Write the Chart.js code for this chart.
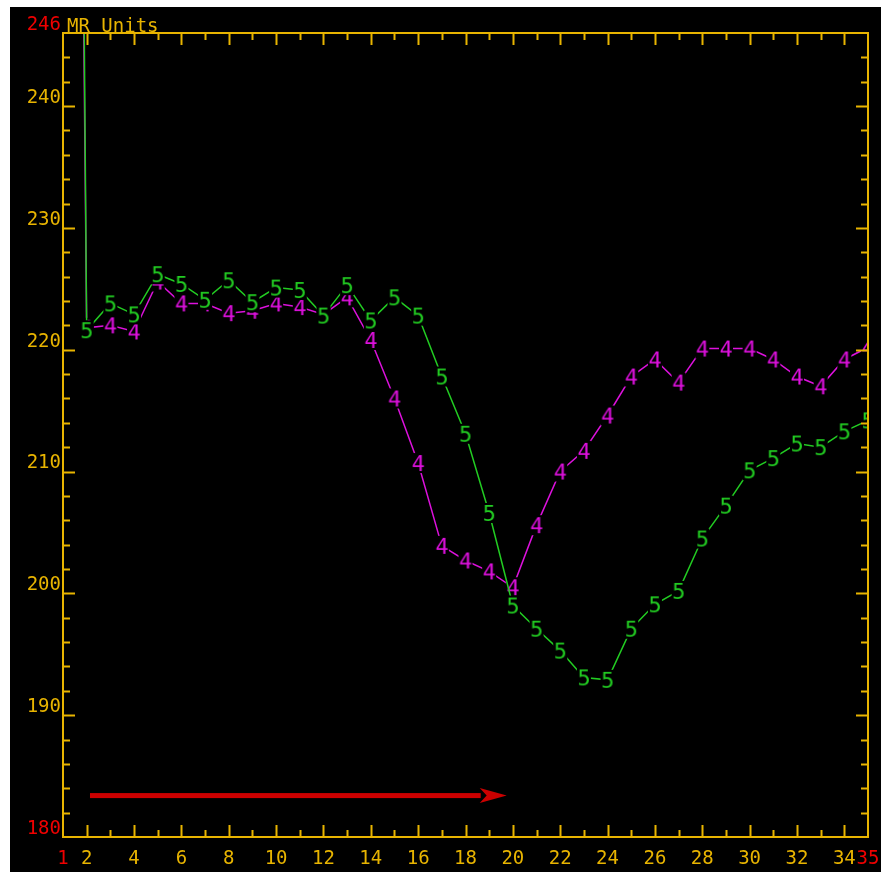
<!DOCTYPE html>
<html>
<head>
<meta charset="utf-8">
<script src="https://cdn.jsdelivr.net/npm/chart.js@4.4.0/dist/chart.umd.min.js"></script>
<style>
  html, body { margin: 0; padding: 0; background: #fff; }
  #wrap { position: absolute; left: 10px; top: 7px; width: 871px; height: 865px; background: #000; }
</style>
</head>
<body>
<div id="wrap"><canvas id="myChart" width="871" height="865"></canvas></div>
<script>
var days = [1, 2, 3, 4, 5, 6, 7, 8, 9, 10, 11, 12, 13, 14, 15, 16, 17, 18,
            19, 20, 21, 22, 23, 24, 25, 26, 27, 28, 29, 30, 31, 32, 33, 34, 35];
// trace "5" (green)
var series5 = [460, 221.6, 223.8, 222.9, 226.2, 225.4, 224.1, 225.7, 223.9, 225.1, 224.9, 222.8,
               225.3, 222.4, 224.3, 222.8, 217.8, 213.1, 206.6, 199.0, 197.1, 195.3, 193.1, 192.9,
               197.1, 199.1, 200.2, 204.5, 207.2, 210.1, 211.1, 212.3, 212.0, 213.3, 214.2];
// trace "4" (magenta)
var series4 = [420, 221.8, 222.0, 221.5, 225.6, 223.8, 223.8, 223.0, 223.2, 223.8, 223.5, 222.9,
               224.3, 220.8, 216.0, 210.7, 203.9, 202.7, 201.8, 200.5, 205.6, 210.0, 211.7, 214.6,
               217.8, 219.2, 217.3, 220.1, 220.1, 220.1, 219.2, 217.8, 217.0, 219.2, 220.2];
var xTickLabels = [1, 2, 4, 6, 8, 10, 12, 14, 16, 18, 20, 22, 24, 26, 28, 30, 32, 34, 35];
var yTickLabels = [180, 190, 200, 210, 220, 230, 240, 246];
var redLabels = [1, 35, 180, 246];
var arrowFrom = 2.14, arrowTo = 19.74, arrowAt = 183.4;

var YELLOW = '#e8b400';
var RED = '#f00000';
var FONT = '"DejaVu Sans Mono", monospace';

// digit marker with a black box behind it, like the plotter's symbols
function glyph(ch, color) {
  var c = document.createElement('canvas');
  c.width = 20; c.height = 26;
  var g = c.getContext('2d');
  g.fillStyle = '#000';
  g.fillRect(3, 3, 14, 20);
  g.font = '22px ' + FONT;
  g.textAlign = 'center';
  g.textBaseline = 'alphabetic';
  g.fillStyle = color;
  g.fillText(ch, 10, 21);
  return c;
}

function toPoints(vals) {
  return days.map(function(d, i) { return { x: d, y: vals[i] }; });
}

var frame = {
  id: 'frame',
  afterDatasetsDraw: function(chart) {
    var c = chart.ctx;
    var xs = chart.scales.x, ys = chart.scales.y;
    // arrow
    var x1 = xs.getPixelForValue(arrowFrom), x2 = xs.getPixelForValue(arrowTo);
    var yy = ys.getPixelForValue(arrowAt);
    c.save();
    c.fillStyle = '#cc0000';
    c.fillRect(x1, yy - 2.5, x2 - 26 - x1, 5);
    c.beginPath();
    c.moveTo(x2 - 27, yy - 7.5);
    c.lineTo(x2, yy);
    c.lineTo(x2 - 27, yy + 7.5);
    c.lineTo(x2 - 20, yy);
    c.closePath();
    c.fill();
    c.restore();
  },
  afterDraw: function(chart) {
    var c = chart.ctx, a = chart.chartArea;
    var xs = chart.scales.x, ys = chart.scales.y;
    c.save();
    c.strokeStyle = YELLOW;
    c.lineWidth = 2;
    c.strokeRect(a.left, a.top, a.right - a.left, a.bottom - a.top);
    c.beginPath();
    for (var d = 2; d <= 34; d++) {
      var px = Math.round(xs.getPixelForValue(d)) + 0.5;
      var len = d % 2 === 0 ? 12 : 7;
      c.moveTo(px, a.bottom); c.lineTo(px, a.bottom - len);
      c.moveTo(px, a.top); c.lineTo(px, a.top + len);
    }
    for (var v = 182; v <= 244; v += 2) {
      var py = Math.round(ys.getPixelForValue(v)) + 0.5;
      var l2 = v % 10 === 0 ? 12 : 7;
      c.moveTo(a.left, py); c.lineTo(a.left + l2, py);
      c.moveTo(a.right, py); c.lineTo(a.right - l2, py);
    }
    c.stroke();
    c.fillStyle = YELLOW;
    c.font = '19px ' + FONT;
    c.textAlign = 'left';
    c.textBaseline = 'alphabetic';
    c.fillText('MR Units', a.left + 4, a.top - 1);
    c.restore();
  }
};

var ctx = document.getElementById('myChart');
var myChart = new Chart(ctx, {
  type: 'line',
  data: {
    datasets: [
      {
        label: '5',
        data: toPoints(series5),
        borderColor: '#22cc22',
        borderWidth: 1.5,
        pointStyle: glyph('5', '#22cc22'),
        pointRadius: 6
      },
      {
        label: '4',
        data: toPoints(series4),
        borderColor: '#dd11dd',
        borderWidth: 1.5,
        pointStyle: glyph('4', '#dd11dd'),
        pointRadius: 6
      }
    ]
  },
  options: {
    responsive: false,
    animation: false,
    layout: { padding: { top: 26, right: 13, left: 0, bottom: 0 } },
    plugins: {
      legend: { display: false },
      tooltip: { enabled: false }
    },
    scales: {
      x: {
        type: 'linear',
        min: 1,
        max: 35,
        grid: { display: false, drawTicks: false },
        border: { display: false },
        afterFit: function(s) { s.height = 35; s.paddingLeft = 0; s.paddingRight = 0; },
        ticks: {
          stepSize: 1,
          autoSkip: false,
          maxRotation: 0,
          padding: 11,
          font: { family: FONT, size: 19 },
          color: function(c) { return redLabels.indexOf(Math.round(c.tick.value)) >= 0 ? RED : YELLOW; },
          callback: function(value) {
            var v = Math.round(value);
            return xTickLabels.indexOf(v) >= 0 ? String(v) : '';
          }
        }
      },
      y: {
        min: 180,
        max: 246,
        grid: { display: false, drawTicks: false },
        border: { display: false },
        afterFit: function(s) { s.width = 53; s.paddingTop = 0; s.paddingBottom = 0; },
        ticks: {
          stepSize: 2,
          autoSkip: false,
          padding: 2,
          labelOffset: -8,
          font: { family: FONT, size: 19 },
          color: function(c) { return redLabels.indexOf(Math.round(c.tick.value)) >= 0 ? RED : YELLOW; },
          callback: function(value) {
            var v = Math.round(value);
            return yTickLabels.indexOf(v) >= 0 ? String(v) : '';
          }
        }
      }
    }
  },
  plugins: [frame]
});
</script>
</body>
</html>
